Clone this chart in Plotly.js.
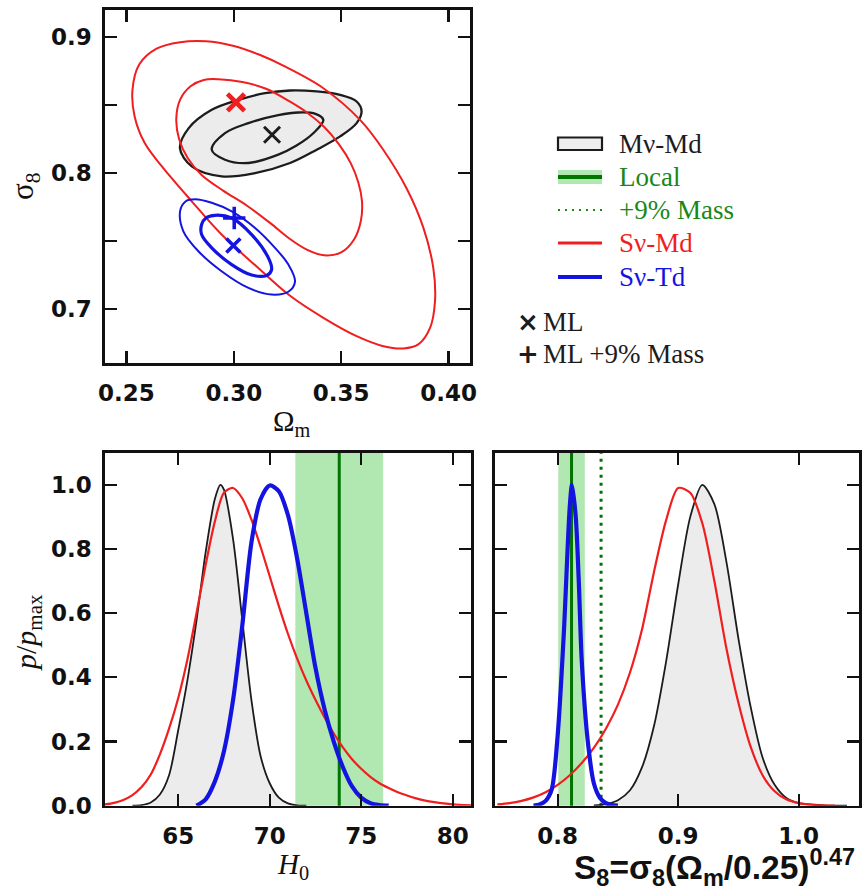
<!DOCTYPE html>
<html>
<head>
<meta charset="utf-8">
<script src="https://cdn.plot.ly/plotly-3.0.1.min.js"></script>
<style>
  html, body { margin: 0; padding: 0; background: #ffffff; }
  #chart { width: 867px; height: 891px; }
</style>
</head>
<body>
<div id="chart"></div>
<script>
// ---------- Omega_m - sigma_8 contours (68% inner, 95% outer) ----------
const omMnuMdOuter = [0.2749, 0.2790, 0.2897, 0.3021, 0.3145, 0.3262, 0.3386, 0.3495, 0.3572, 0.3595, 0.3572, 0.3495, 0.3386, 0.3262, 0.3099, 0.2943, 0.2804, 0.2749];
const s8MnuMdOuter = [0.8183, 0.8330, 0.8465, 0.8538, 0.8587, 0.8607, 0.8600, 0.8575, 0.8526, 0.8453, 0.8367, 0.8269, 0.8171, 0.8073, 0.7999, 0.7975, 0.8048, 0.8183];
const omMnuMdInner = [0.2897, 0.2959, 0.3068, 0.3207, 0.3300, 0.3380, 0.3417, 0.3375, 0.3290, 0.3207, 0.3068, 0.2959, 0.2897];
const s8MnuMdInner = [0.8171, 0.8293, 0.8367, 0.8425, 0.8445, 0.8435, 0.8390, 0.8300, 0.8200, 0.8135, 0.8073, 0.8097, 0.8171];

const omSnuMdOuter = [0.2870, 0.3000, 0.3120, 0.3230, 0.3417, 0.3588, 0.3696, 0.3805, 0.3883, 0.3929, 0.3937, 0.3914, 0.3859, 0.3790, 0.3697, 0.3572, 0.3417, 0.3262, 0.3114, 0.2943, 0.2804, 0.2665, 0.2585, 0.2538, 0.2528, 0.2560, 0.2640, 0.2750, 0.2870];
const s8SnuMdOuter = [0.8970, 0.8935, 0.8870, 0.8790, 0.8624, 0.8391, 0.8171, 0.7885, 0.7595, 0.7300, 0.7055, 0.6859, 0.6737, 0.6707, 0.6724, 0.6798, 0.6933, 0.7095, 0.7300, 0.7546, 0.7791, 0.8048, 0.8220, 0.8416, 0.8612, 0.8800, 0.8915, 0.8963, 0.8970];
const omSnuMdInner = [0.2930, 0.3040, 0.3150, 0.3262, 0.3345, 0.3420, 0.3490, 0.3545, 0.3580, 0.3597, 0.3592, 0.3560, 0.3500, 0.3420, 0.3340, 0.3260, 0.3170, 0.3060, 0.2950, 0.2850, 0.2785, 0.2745, 0.2732, 0.2750, 0.2800, 0.2860, 0.2930];
const s8SnuMdInner = [0.8690, 0.8670, 0.8620, 0.8525, 0.8440, 0.8340, 0.8210, 0.8070, 0.7930, 0.7790, 0.7650, 0.7510, 0.7415, 0.7393, 0.7435, 0.7515, 0.7630, 0.7760, 0.7870, 0.7985, 0.8110, 0.8250, 0.8400, 0.8540, 0.8640, 0.8685, 0.8690];

const omSnuTdOuter = [0.2750, 0.2775, 0.2820, 0.2897, 0.2990, 0.3099, 0.3192, 0.3254, 0.3285, 0.3254, 0.3176, 0.3068, 0.2943, 0.2835, 0.2765, 0.2750];
const s8SnuTdOuter = [0.7720, 0.7790, 0.7806, 0.7780, 0.7717, 0.7595, 0.7448, 0.7325, 0.7200, 0.7125, 0.7104, 0.7153, 0.7276, 0.7423, 0.7570, 0.7720];
const omSnuTdInner = [0.2850, 0.2870, 0.2912, 0.2990, 0.3083, 0.3161, 0.3176, 0.3153, 0.3083, 0.2990, 0.2897, 0.2850, 0.2850];
const s8SnuTdInner = [0.7620, 0.7668, 0.7688, 0.7668, 0.7546, 0.7374, 0.7288, 0.7245, 0.7248, 0.7325, 0.7448, 0.7546, 0.7620];

// maximum-likelihood points: Mnu-Md, Snu-Md, Snu-Td
const mlOm = [0.3178, 0.3010, 0.2998];
const mlS8 = [0.8281, 0.8520, 0.7466];
const ml9Om = [0.3002];
const ml9S8 = [0.7668];

// ---------- H0 marginals ----------
const h0MnuMd = [62.5, 63.0, 63.5, 64.0, 64.5, 65.0, 65.5, 66.0, 66.5, 67.0, 67.3, 67.5, 68.0, 68.5, 69.0, 69.5, 70.0, 70.5, 71.0, 71.5, 72.0];
const pH0MnuMd = [0.0, 0.002, 0.01, 0.035, 0.095, 0.235, 0.39, 0.577, 0.79, 0.955, 1.0, 0.985, 0.83, 0.58, 0.33, 0.155, 0.07, 0.025, 0.007, 0.001, 0.0];
const h0SnuMd = [61.0, 61.5, 62.0, 62.5, 63.0, 63.5, 64.0, 64.5, 65.0, 65.5, 66.0, 66.5, 67.0, 67.5, 68.0, 68.5, 69.0, 69.5, 70.0, 70.5, 71.0, 71.5, 72.0, 72.5, 73.0, 73.5, 74.0, 74.5, 75.0, 75.5, 76.0, 76.5, 77.0, 77.5, 78.0, 78.5, 79.0, 79.5, 80.0, 81.0];
const pH0SnuMd = [0.004, 0.009, 0.018, 0.033, 0.058, 0.097, 0.16, 0.24, 0.335, 0.455, 0.60, 0.75, 0.885, 0.975, 0.99, 0.958, 0.892, 0.807, 0.715, 0.622, 0.535, 0.458, 0.39, 0.33, 0.275, 0.225, 0.182, 0.145, 0.115, 0.09, 0.07, 0.055, 0.042, 0.032, 0.023, 0.016, 0.011, 0.007, 0.004, 0.001];
const h0SnuTd = [66.0, 66.5, 67.0, 67.5, 68.0, 68.5, 69.0, 69.5, 70.0, 70.5, 71.0, 71.5, 72.0, 72.5, 73.0, 73.5, 74.0, 74.5, 75.0, 75.5, 76.0, 76.5];
const pH0SnuTd = [0.0, 0.02, 0.075, 0.17, 0.33, 0.56, 0.82, 0.955, 0.998, 0.98, 0.905, 0.77, 0.60, 0.43, 0.30, 0.20, 0.12, 0.06, 0.025, 0.008, 0.002, 0.0];
const h0Local = 73.8;
const h0LocalErr = 2.4;

// ---------- S8 marginals ----------
const s8MnuMd = [0.83, 0.84, 0.85, 0.86, 0.87, 0.88, 0.89, 0.90, 0.91, 0.92, 0.93, 0.94, 0.95, 0.96, 0.97, 0.98, 0.99, 1.00, 1.01, 1.02, 1.03, 1.04];
const pS8MnuMd = [0.001, 0.005, 0.017, 0.048, 0.12, 0.25, 0.45, 0.69, 0.90, 1.0, 0.94, 0.76, 0.52, 0.31, 0.15, 0.065, 0.023, 0.008, 0.004, 0.001, 0.0, 0.0];
const s8SnuMd = [0.75, 0.76, 0.77, 0.78, 0.79, 0.80, 0.81, 0.82, 0.83, 0.84, 0.85, 0.86, 0.87, 0.88, 0.89, 0.90, 0.91, 0.92, 0.93, 0.94, 0.95, 0.96, 0.97, 0.98, 0.99, 1.00, 1.01, 1.02, 1.03];
const pS8SnuMd = [0.004, 0.008, 0.015, 0.026, 0.042, 0.065, 0.095, 0.133, 0.18, 0.24, 0.315, 0.415, 0.55, 0.73, 0.89, 0.99, 0.975, 0.88, 0.70, 0.49, 0.32, 0.185, 0.095, 0.045, 0.019, 0.008, 0.003, 0.001, 0.0];
const s8SnuTd = [0.78, 0.785, 0.79, 0.795, 0.80, 0.805, 0.81, 0.8119, 0.815, 0.8175, 0.82, 0.825, 0.83, 0.835, 0.84, 0.845, 0.85];
const pS8SnuTd = [0.0, 0.004, 0.015, 0.05, 0.22, 0.53, 0.93, 1.0, 0.90, 0.70, 0.45, 0.20, 0.07, 0.025, 0.008, 0.002, 0.0];
const s8Local = 0.8115;
const s8LocalErr = 0.011;
const s8Mass9 = 0.836;

// ---------- legend entries ----------
const legendLabels = ['M\u03bd-Md', 'Local', '+9% Mass', 'S\u03bd-Md', 'S\u03bd-Td'];
const markerLabels = ['ML', 'ML +9% Mass'];

// ---------- styling ----------
const BLACK = '#1c1c1c';
const RED = 'rgb(240,30,30)';
const BLUE = 'rgb(20,20,225)';
const GREEN = 'rgb(0,115,0)';
const GREEN_TXT = 'rgb(25,135,25)';
const BAND = 'rgba(40,190,40,0.36)';
const FILL = 'rgba(0,0,0,0.075)';
const W = 867, H = 891;
const px = v => v / W;            // pixel -> paper x
const py = v => 1 - v / H;        // pixel -> paper y

function contour(x, y, color, width, fill) {
  const t = { x: x, y: y, mode: 'lines', xaxis: 'x', yaxis: 'y', showlegend: false, hoverinfo: 'skip',
    line: { color: color, width: width, shape: 'spline', smoothing: 1 } };
  if (fill) { t.fill = 'toself'; t.fillcolor = fill; }
  return t;
}
function marginal(x, y, color, width, xa, ya, fill) {
  const t = { x: x, y: y, mode: 'lines', xaxis: xa, yaxis: ya, showlegend: false, hoverinfo: 'skip',
    line: { color: color, width: width, shape: 'spline', smoothing: 0.8 } };
  if (fill) { t.fill = 'tozeroy'; t.fillcolor = fill; }
  return t;
}
function mlPoint(i, color, size, width) {
  return { x: [mlOm[i]], y: [mlS8[i]], mode: 'markers', xaxis: 'x', yaxis: 'y', showlegend: false, hoverinfo: 'skip',
    marker: { symbol: 'x-thin', size: size, color: color, line: { color: color, width: width } } };
}

const traces = [
  contour(omMnuMdOuter, s8MnuMdOuter, BLACK, 2.3, FILL),
  contour(omMnuMdInner, s8MnuMdInner, BLACK, 2.3),
  contour(omSnuMdOuter, s8SnuMdOuter, RED, 2.0),
  contour(omSnuMdInner, s8SnuMdInner, RED, 2.0),
  contour(omSnuTdOuter, s8SnuTdOuter, BLUE, 2.0),
  contour(omSnuTdInner, s8SnuTdInner, BLUE, 3.2),
  mlPoint(0, BLACK, 16, 3),
  mlPoint(1, RED, 17, 4.6),
  mlPoint(2, BLUE, 14, 3.6),
  { x: ml9Om, y: ml9S8, mode: 'markers', xaxis: 'x', yaxis: 'y', showlegend: false, hoverinfo: 'skip',
    marker: { symbol: 'cross-thin', size: 16, color: BLUE, line: { color: BLUE, width: 3.6 } } },

  // H0
  marginal(h0MnuMd, pH0MnuMd, BLACK, 1.8, 'x2', 'y2', FILL),
  marginal(h0SnuMd, pH0SnuMd, RED, 2.2, 'x2', 'y2'),
  marginal(h0SnuTd, pH0SnuTd, BLUE, 4.2, 'x2', 'y2'),

  // S8
  marginal(s8MnuMd, pS8MnuMd, BLACK, 1.8, 'x3', 'y3', FILL),
  marginal(s8SnuMd, pS8SnuMd, RED, 2.2, 'x3', 'y3'),
  marginal(s8SnuTd, pS8SnuTd, BLUE, 4.2, 'x3', 'y3')
];

const tickFont = { family: 'DejaVu Sans', size: 23, color: '#111', weight: 'bold' };
function axis(extra) {
  return Object.assign({
    showline: true, linecolor: '#111', linewidth: 2.6, mirror: 'allticks',
    ticks: 'inside', ticklen: 12, tickwidth: 2.2, tickcolor: '#111',
    showgrid: false, zeroline: false, tickfont: tickFont, automargin: false, fixedrange: true
  }, extra);
}

const pTicks = [0, 0.2, 0.4, 0.6, 0.8, 1.0];

const shapes = [
  // local H0 measurement
  { type: 'rect', xref: 'x2', yref: 'y2 domain', x0: h0Local - h0LocalErr, x1: h0Local + h0LocalErr, y0: 0, y1: 1,
    fillcolor: BAND, line: { width: 0 }, layer: 'below' },
  { type: 'line', xref: 'x2', yref: 'y2 domain', x0: h0Local, x1: h0Local, y0: 0, y1: 1,
    line: { color: GREEN, width: 3 }, layer: 'below' },
  // local S8 measurement and the +9% mass shift
  { type: 'rect', xref: 'x3', yref: 'y3 domain', x0: s8Local - s8LocalErr, x1: s8Local + s8LocalErr, y0: 0, y1: 1,
    fillcolor: BAND, line: { width: 0 }, layer: 'below' },
  { type: 'line', xref: 'x3', yref: 'y3 domain', x0: s8Local, x1: s8Local, y0: 0, y1: 1,
    line: { color: GREEN, width: 3 }, layer: 'below' },
  { type: 'line', xref: 'x3', yref: 'y3 domain', x0: s8Mass9, x1: s8Mass9, y0: 0, y1: 1,
    line: { color: GREEN, width: 3, dash: '3px,5px' }, layer: 'below' },

  // legend keys
  { type: 'rect', xref: 'paper', yref: 'paper', x0: px(558), x1: px(602), y0: py(150), y1: py(137.5),
    fillcolor: '#eeeeee', line: { color: BLACK, width: 2.2 } },
  { type: 'rect', xref: 'paper', yref: 'paper', x0: px(558), x1: px(602), y0: py(184), y1: py(170),
    fillcolor: BAND, line: { width: 0 } },
  { type: 'line', xref: 'paper', yref: 'paper', x0: px(558), x1: px(602), y0: py(177), y1: py(177),
    line: { color: GREEN, width: 4 } },
  { type: 'line', xref: 'paper', yref: 'paper', x0: px(558), x1: px(602), y0: py(210), y1: py(210),
    line: { color: GREEN_TXT, width: 2, dash: '2px,5px' } },
  { type: 'line', xref: 'paper', yref: 'paper', x0: px(558), x1: px(602), y0: py(243), y1: py(243),
    line: { color: RED, width: 3 } },
  { type: 'line', xref: 'paper', yref: 'paper', x0: px(558), x1: px(602), y0: py(277), y1: py(277),
    line: { color: BLUE, width: 4 } }
];

const legendColors = [BLACK, GREEN_TXT, GREEN_TXT, RED, BLUE];
const legendRows = [143.5, 177, 210, 243, 277];
const serif = 'Liberation Serif';

const annotations = [
  { text: '\u03a9<sub>m</sub>', x: px(292), y: py(423), xref: 'paper', yref: 'paper', showarrow: false,
    xanchor: 'center', yanchor: 'middle', font: { family: serif, size: 29, color: '#111' } },
  { text: '\u03c3<sub>8</sub>', x: px(25), y: py(186), xref: 'paper', yref: 'paper', showarrow: false, textangle: -90,
    xanchor: 'center', yanchor: 'middle', font: { family: serif, size: 31, color: '#111' } },
  { text: '<i>p</i>/<i>p</i><sub>max</sub>', x: px(28), y: py(632), xref: 'paper', yref: 'paper', showarrow: false, textangle: -90,
    xanchor: 'center', yanchor: 'middle', font: { family: serif, size: 30, color: '#111' } },
  { text: '<i>H</i><sub>0</sub>', x: px(293), y: py(866), xref: 'paper', yref: 'paper', showarrow: false,
    xanchor: 'center', yanchor: 'middle', font: { family: serif, size: 29, color: '#111' } },
  { text: '<b>S<sub>8</sub>=\u03c3<sub>8</sub>(\u03a9<sub>m</sub>/0.25)<sup>0.47</sup></b>', x: px(572), y: py(867),
    xref: 'paper', yref: 'paper', showarrow: false, xanchor: 'left', yanchor: 'middle',
    font: { family: 'Liberation Sans', size: 33.5, color: '#111' } }
];

legendLabels.forEach((lab, i) => {
  annotations.push({ text: lab, x: px(617), y: py(legendRows[i]), xref: 'paper', yref: 'paper', showarrow: false,
    xanchor: 'left', yanchor: 'middle', font: { family: serif, size: 27, color: legendColors[i] } });
});
annotations.push(
  { text: '<b>\u00d7</b>', x: px(528), y: py(322), xref: 'paper', yref: 'paper', showarrow: false,
    xanchor: 'center', yanchor: 'middle', font: { family: 'DejaVu Sans', size: 26, color: BLACK } },
  { text: '<b>+</b>', x: px(528), y: py(354), xref: 'paper', yref: 'paper', showarrow: false,
    xanchor: 'center', yanchor: 'middle', font: { family: 'DejaVu Sans', size: 26, color: BLACK } },
  { text: markerLabels[0], x: px(541), y: py(322), xref: 'paper', yref: 'paper', showarrow: false,
    xanchor: 'left', yanchor: 'middle', font: { family: serif, size: 27, color: BLACK } },
  { text: markerLabels[1], x: px(541), y: py(354), xref: 'paper', yref: 'paper', showarrow: false,
    xanchor: 'left', yanchor: 'middle', font: { family: serif, size: 27, color: BLACK } }
);

const layout = {
  width: W, height: H,
  margin: { l: 0, r: 0, t: 0, b: 0 },
  paper_bgcolor: '#ffffff', plot_bgcolor: 'rgba(0,0,0,0)',
  showlegend: false,
  xaxis: axis({ domain: [px(105), px(470)], range: [0.24, 0.41], anchor: 'y',
    tickvals: [0.25, 0.30, 0.35, 0.40], tickformat: '.2f', ticklabelstandoff: 8 }),
  yaxis: axis({ domain: [py(363), py(10)], range: [0.66, 0.92], anchor: 'x',
    tickvals: [0.7, 0.75, 0.8, 0.85, 0.9], ticktext: ['0.7', '', '0.8', '', '0.9'], ticklabelstandoff: 6 }),
  xaxis2: axis({ domain: [px(105), px(471)], range: [61, 81], anchor: 'y2',
    tickvals: [65, 70, 75, 80], ticklabelstandoff: 8 }),
  yaxis2: axis({ domain: [py(805.7), py(452.7)], range: [0, 1.1], anchor: 'x2',
    tickvals: pTicks, tickformat: '.1f', ticklabelstandoff: 6 }),
  xaxis3: axis({ domain: [px(495), px(859)], range: [0.748, 1.05], anchor: 'y3',
    tickvals: [0.8, 0.9, 1.0], tickformat: '.1f', ticklabelstandoff: 8 }),
  yaxis3: axis({ domain: [py(805.7), py(452.7)], range: [0, 1.1], anchor: 'x3',
    tickvals: pTicks, showticklabels: false }),
  shapes: shapes,
  annotations: annotations
};

Plotly.newPlot('chart', traces, layout, { staticPlot: true, displayModeBar: false });
</script>
</body>
</html>
